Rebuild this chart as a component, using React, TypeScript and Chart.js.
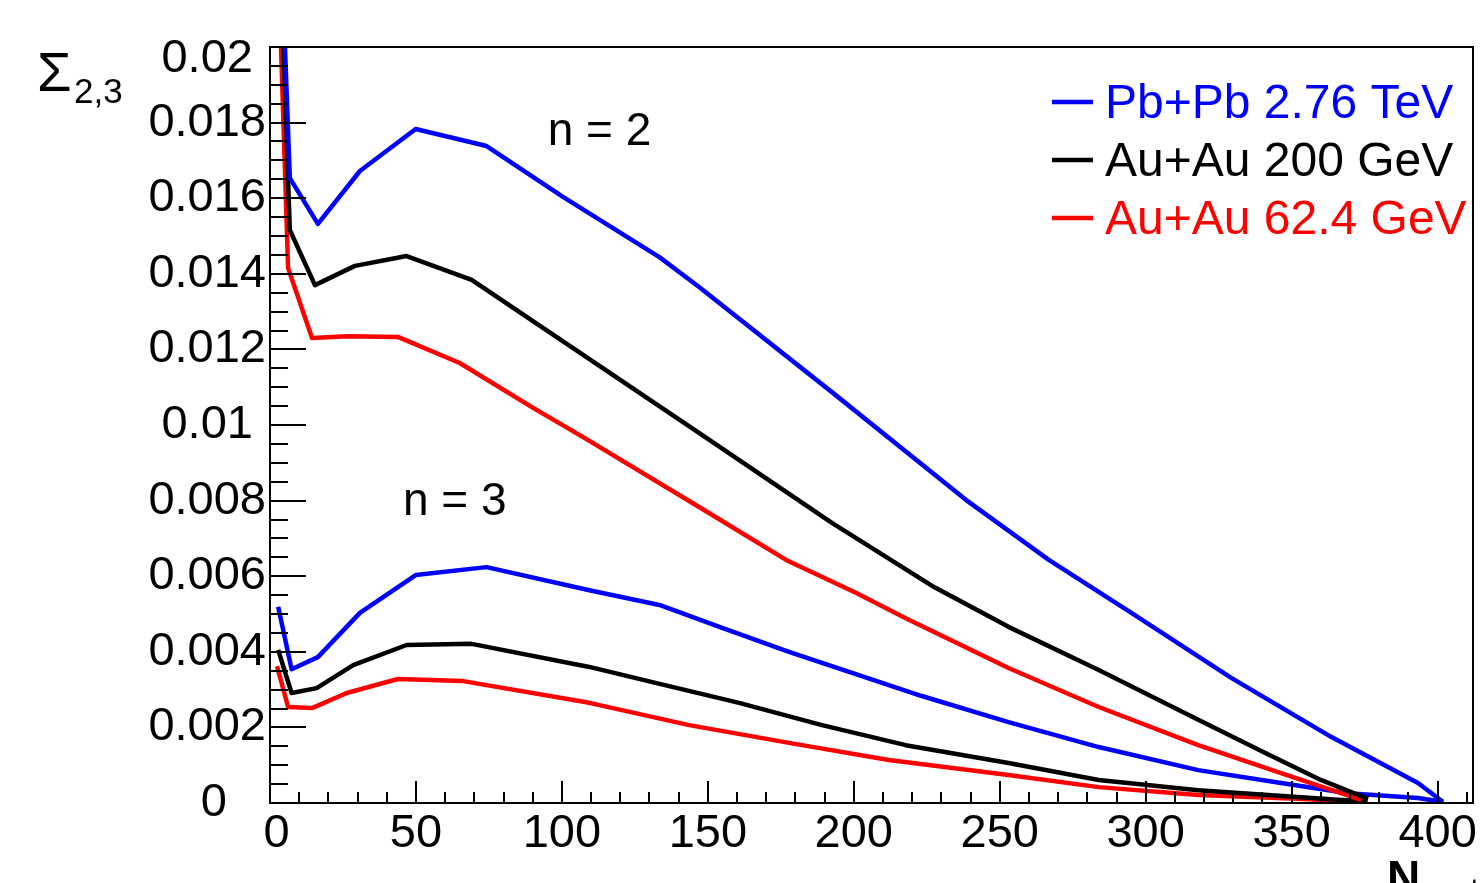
import React, { useEffect, useRef } from "react";
import { Chart, registerables } from "chart.js";

Chart.register(...registerables);

const FONT = '"Liberation Sans", Arial, Helvetica, sans-serif';

// Series names and colours
const systems = ["Pb+Pb 2.76 TeV", "Au+Au 200 GeV", "Au+Au 62.4 GeV"];
const colors = ["#0000ff", "#000000", "#ff0000"];

// n = 2
const pbN2x = [2.8, 6.8, 16.4, 30.8, 49.9, 74.2, 100.5, 133.4, 147, 192.5, 238.4, 266.8, 295.1, 329.3, 363.5, 393.3, 401.8];
const pbN2y = [0.0248, 0.01653, 0.01532, 0.01672, 0.01783, 0.01738, 0.01603, 0.01444, 0.01365, 0.01087, 0.00802, 0.00643, 0.00503, 0.00331, 0.00175, 0.00053, 0.00003];

const au200N2x = [2.8, 6.8, 15.4, 29.1, 46.8, 69.1, 149.5, 192.5, 226.7, 253, 283.9, 318, 341, 360, 376.2];
const au200N2y = [0.0241, 0.01516, 0.0137, 0.01421, 0.01447, 0.01384, 0.00966, 0.00741, 0.00575, 0.00466, 0.00352, 0.0022, 0.00132, 0.00061, 0.00011];

const au62N2x = [2.4, 6.2, 14.4, 26.7, 43.8, 65.0, 90.0, 107.7, 147, 176.8, 200.7, 217.8, 253, 283.9, 318, 346.4, 373.8];
const au62N2y = [0.0233, 0.01415, 0.0123, 0.01235, 0.01233, 0.01164, 0.01046, 0.00966, 0.00783, 0.00643, 0.00556, 0.00489, 0.00357, 0.00254, 0.00153, 0.00079, 0.00008];

// n = 3
const pbN3x = [2.8, 7.4, 16.4, 30.8, 49.9, 74.2, 109.4, 133.4, 154.9, 177.8, 200.7, 223.3, 253, 283.9, 318, 346.4, 369.3, 393.3, 402];
const pbN3y = [0.00519, 0.00354, 0.00386, 0.00503, 0.00603, 0.00624, 0.00563, 0.00524, 0.00463, 0.004, 0.00341, 0.00283, 0.00214, 0.00148, 0.00087, 0.00053, 0.00026, 0.00013, 0.00003];

const au200N3x = [2.8, 7.4, 16, 28.5, 46.8, 69.1, 109.4, 132.4, 160.7, 189.1, 217.8, 253, 283.9, 318, 352, 376];
const au200N3y = [0.00405, 0.00291, 0.00304, 0.00365, 0.00418, 0.00421, 0.0036, 0.00317, 0.00265, 0.00206, 0.00153, 0.00106, 0.00061, 0.00034, 0.00016, 0.00003];

const au62N3x = [2.4, 6.2, 14.4, 26.3, 43.8, 65.7, 109.4, 143.6, 177.8, 212, 253, 283.9, 318, 352, 374.5];
const au62N3y = [0.00362, 0.00254, 0.00251, 0.00291, 0.00328, 0.00323, 0.00265, 0.00206, 0.00159, 0.00114, 0.00074, 0.00042, 0.00021, 0.00011, 0.00003];

// Axes
const xRange = [0, 412];
const yRange = [0, 0.02];
const xMajorStep = 50;
const xMinorStep = 10;
const yMajorStep = 0.002;
const yMinorStep = 0.0005;
const xTickLabels = ["0", "50", "100", "150", "200", "250", "300", "350", "400"];
const yTickLabels = ["0", "0.002", "0.004", "0.006", "0.008", "0.01", "0.012", "0.014", "0.016", "0.018", "0.02"];

// Annotations (text, x, y in data units)
const harmonicLabels = ["n = 2", "n = 3"];
const harmonicLabelX = [112.9, 63.3];
const harmonicLabelY = [0.0174, 0.00762];

const yTitle = "\u03A3";
const yTitleSub = "2,3";
const xTitle = "N";
const xTitleSub = "part";

const decor = {
  id: "decor",
  afterDraw(chart: any) {
    const { ctx, chartArea: a, scales } = chart;
    const xs = scales.x;
    const ys = scales.y;
    ctx.save();
    ctx.strokeStyle = "#000";
    ctx.lineWidth = 2;
    ctx.lineCap = "butt";
    ctx.strokeRect(Math.round(a.left), Math.round(a.top), Math.round(a.right - a.left), Math.round(a.bottom - a.top));

    ctx.beginPath();
    const nY = Math.round((yRange[1] - yRange[0]) / yMinorStep);
    const perY = Math.round(yMajorStep / yMinorStep);
    for (let i = 0; i <= nY; i++) {
      const v = yRange[0] + i * yMinorStep;
      const p = Math.round(ys.getPixelForValue(v));
      const len = i % perY === 0 ? 36 : 18;
      ctx.moveTo(a.left, p);
      ctx.lineTo(a.left + len, p);
    }
    const nX = Math.floor((xRange[1] - xRange[0]) / xMinorStep);
    const perX = Math.round(xMajorStep / xMinorStep);
    for (let i = 0; i <= nX; i++) {
      const v = xRange[0] + i * xMinorStep;
      const p = Math.round(xs.getPixelForValue(v));
      const len = i % perX === 0 ? 22 : 11;
      ctx.moveTo(p, a.bottom);
      ctx.lineTo(p, a.bottom - len);
    }
    ctx.stroke();

    // Legend
    ctx.textAlign = "left";
    ctx.textBaseline = "alphabetic";
    ctx.font = `48px ${FONT}`;
    systems.forEach((name, i) => {
      const base = 118 + i * 58;
      ctx.strokeStyle = colors[i];
      ctx.lineWidth = 4.5;
      ctx.beginPath();
      ctx.moveTo(1052, base - 16);
      ctx.lineTo(1093, base - 16);
      ctx.stroke();
      ctx.fillStyle = colors[i];
      ctx.fillText(name, 1105, base);
    });

    // n labels
    ctx.fillStyle = "#000";
    ctx.textAlign = "center";
    ctx.font = `46px ${FONT}`;
    harmonicLabels.forEach((t, i) => {
      ctx.fillText(t, xs.getPixelForValue(harmonicLabelX[i]), ys.getPixelForValue(harmonicLabelY[i]));
    });

    // Y title
    ctx.textAlign = "left";
    ctx.font = `56px ${FONT}`;
    ctx.fillText(yTitle, 37, 91);
    ctx.font = `35px ${FONT}`;
    ctx.fillText(yTitleSub, 74, 103);

    // X title (mostly below visible area)
    ctx.font = `bold 46px ${FONT}`;
    ctx.fillText(xTitle, 1387, 893);
    ctx.font = `32px ${FONT}`;
    ctx.fillText(xTitleSub, 1424, 900);
    ctx.restore();
  },
};

function mk(label: string, xs: number[], ys: number[], color: string) {
  return {
    label,
    data: xs.map((x, i) => ({ x, y: ys[i] })),
    borderColor: color,
    backgroundColor: color,
    borderWidth: 4.5,
    pointRadius: 0,
    tension: 0,
    fill: false,
    borderJoinStyle: "round" as const,
  };
}

export default function App() {
  const ref = useRef<HTMLCanvasElement>(null);
  useEffect(() => {
    const canvas = ref.current;
    if (!canvas) return;
    const chart = new Chart(canvas, {
      type: "line",
      data: {
        datasets: [
          mk(systems[0], pbN2x, pbN2y, colors[0]),
          mk(systems[1], au200N2x, au200N2y, colors[1]),
          mk(systems[2], au62N2x, au62N2y, colors[2]),
          mk(systems[0], pbN3x, pbN3y, colors[0]),
          mk(systems[1], au200N3x, au200N3y, colors[1]),
          mk(systems[2], au62N3x, au62N3y, colors[2]),
        ],
      },
      options: {
        animation: false,
        responsive: true,
        maintainAspectRatio: false,
        events: [],
        layout: { padding: { top: 47, right: 7, left: 0, bottom: 0 } },
        plugins: { legend: { display: false }, tooltip: { enabled: false } },
        scales: {
          x: {
            type: "linear",
            min: xRange[0],
            max: xRange[1],
            grid: { display: false, drawTicks: false },
            border: { display: false },
            ticks: {
              stepSize: xMajorStep,
              includeBounds: false,
              padding: 3,
              autoSkip: false,
              maxRotation: 0,
              color: "#000",
              font: { family: FONT, size: 47 },
              callback: (_v: any, i: number) => {
                const s = xTickLabels[i] ?? "";
                // first label nudged right, as in the original
                return i === 0 ? " " + s : s;
              },
            },
            afterFit: (s: any) => {
              s.height = 80;
            },
          },
          y: {
            type: "linear",
            min: yRange[0],
            max: yRange[1],
            grid: { display: false, drawTicks: false },
            border: { display: false },
            ticks: {
              stepSize: yMajorStep,
              padding: 4,
              crossAlign: "center",
              autoSkip: false,
              color: "#000",
              font: { family: FONT, size: 47, lineHeight: 0.5 },
              callback: (_v: any, i: number) => {
                const s = yTickLabels[i] ?? "";
                if (i === yTickLabels.length - 1) return ["", s]; // top label sits lower
                if (i === 0) return " " + s;
                return s;
              },
            },
            afterFit: (s: any) => {
              s.width = 270;
            },
          },
        },
      },
      plugins: [decor],
    } as any);
    return () => chart.destroy();
  }, []);
  return (
    <div style={{ position: "fixed", left: 0, top: 0, width: 1480, height: 883, background: "#fff" }}>
      <canvas ref={ref} />
    </div>
  );
}
